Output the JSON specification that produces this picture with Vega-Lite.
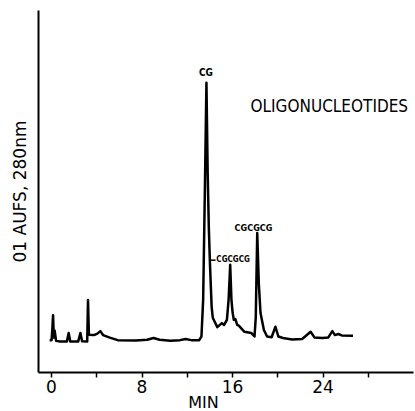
{
  "$schema": "https://vega.github.io/schema/vega-lite/v6.json",
  "width": 375,
  "height": 362,
  "autosize": "none",
  "padding": {"left": 38, "top": 10, "right": 2, "bottom": 39},
  "background": "white",
  "config": {
    "view": {"stroke": null},
    "font": "DejaVu Sans",
    "axis": {"domainColor": "black", "domainWidth": 2, "tickColor": "black", "tickWidth": 1.5, "labelColor": "black", "titleColor": "black", "grid": false, "titleFontWeight": "normal", "labelFont": "DejaVu Sans", "titleFont": "DejaVu Sans"}
  },
  "datasets": {
    "trace": [
      {"t": -0.12, "v": 8.8}, {"t": 0.05, "v": 8.8}, {"t": 0.12, "v": 12}, {"t": 0.18, "v": 15.7},
      {"t": 0.25, "v": 9.5}, {"t": 0.32, "v": 11.5}, {"t": 0.45, "v": 8.6}, {"t": 0.8, "v": 8.4},
      {"t": 1.4, "v": 8.4}, {"t": 1.56, "v": 10.8}, {"t": 1.7, "v": 8.4}, {"t": 2.4, "v": 8.4},
      {"t": 2.6, "v": 10.8}, {"t": 2.75, "v": 8.5}, {"t": 3.2, "v": 8.4}, {"t": 3.27, "v": 19.9},
      {"t": 3.35, "v": 10.3}, {"t": 3.8, "v": 10.2}, {"t": 4.1, "v": 10.6}, {"t": 4.36, "v": 11.3},
      {"t": 4.6, "v": 10.2}, {"t": 5.2, "v": 9.5}, {"t": 5.9, "v": 8.8}, {"t": 7.5, "v": 8.7},
      {"t": 8.5, "v": 8.9}, {"t": 9.06, "v": 9.4}, {"t": 9.6, "v": 8.9}, {"t": 10.55, "v": 8.6},
      {"t": 11.4, "v": 8.8}, {"t": 11.9, "v": 9.1}, {"t": 12.4, "v": 8.8}, {"t": 13.1, "v": 8.8},
      {"t": 13.3, "v": 9.8}, {"t": 13.45, "v": 20}, {"t": 13.6, "v": 50}, {"t": 13.74, "v": 79.9},
      {"t": 13.85, "v": 55}, {"t": 13.95, "v": 40}, {"t": 14.05, "v": 30}, {"t": 14.2, "v": 18},
      {"t": 14.3, "v": 15}, {"t": 14.7, "v": 12.4}, {"t": 15.1, "v": 13.5}, {"t": 15.3, "v": 13},
      {"t": 15.55, "v": 14.4}, {"t": 15.7, "v": 20}, {"t": 15.84, "v": 29.6}, {"t": 15.95, "v": 20},
      {"t": 16.05, "v": 16.5}, {"t": 16.16, "v": 14.4}, {"t": 16.3, "v": 14.6}, {"t": 16.46, "v": 13},
      {"t": 16.6, "v": 12.8}, {"t": 17.1, "v": 11.1}, {"t": 17.7, "v": 10.8}, {"t": 17.99, "v": 9.8},
      {"t": 18.1, "v": 15}, {"t": 18.23, "v": 38.4}, {"t": 18.37, "v": 24.5}, {"t": 18.52, "v": 16.3},
      {"t": 18.82, "v": 11.6}, {"t": 19.1, "v": 9.8}, {"t": 19.5, "v": 9.6}, {"t": 19.84, "v": 12.5},
      {"t": 20.1, "v": 9.8}, {"t": 20.5, "v": 9.4}, {"t": 21.32, "v": 9.0}, {"t": 22.2, "v": 9.1},
      {"t": 22.95, "v": 11.1}, {"t": 23.3, "v": 9.5}, {"t": 24.0, "v": 9.4}, {"t": 24.5, "v": 9.5},
      {"t": 24.87, "v": 11.3}, {"t": 25.1, "v": 10.2}, {"t": 25.4, "v": 10.5}, {"t": 25.7, "v": 10.1},
      {"t": 26.7, "v": 10.0}
    ],
    "labels": [
      {"t": 13.7, "v": 82.5, "label": "CG", "size": 10},
      {"t": 16.1, "v": 30.9, "label": "CGCGCG", "size": 8},
      {"t": 17.9, "v": 39.8, "label": "CGCGCG", "size": 9}
    ],
    "leader": [{"t": 14.1, "t2": 14.55, "v": 30.9}],
    "title": [{"t": 24.6, "v": 73.2, "label": "OLIGONUCLEOTIDES"}]
  },
  "encoding": {
    "x": {"field": "t", "type": "quantitative",
      "scale": {"domain": [-1.15, 32], "nice": false, "zero": false},
      "axis": {"values": [0, 4, 8, 12, 16, 20, 24, 28], "labelExpr": "datum.value % 8 == 0 ? datum.label : ''",
        "labelFontSize": 17, "tickSize": 5, "labelPadding": 2, "title": "MIN", "titleFontSize": 16,
        "titleAnchor": null, "titleX": 165, "titleY": 35, "titleBaseline": "alphabetic", "titleAlign": "center"}},
    "y": {"field": "v", "type": "quantitative",
      "scale": {"domain": [0, 100], "nice": false},
      "axis": {"ticks": false, "labels": false, "title": "01 AUFS, 280nm", "titleFontSize": 17,
        "titleAnchor": null, "titleX": -18, "titleY": 181, "titleBaseline": "middle", "titleAlign": "center", "titleAngle": -90}}
  },
  "layer": [
    {"data": {"name": "trace"}, "mark": {"type": "line", "color": "black", "strokeWidth": 2.5, "strokeJoin": "round"}},
    {"data": {"name": "labels"}, "mark": {"type": "text", "font": "DejaVu Sans Condensed", "fontWeight": "bold", "color": "black", "align": "center", "baseline": "middle"},
      "encoding": {"text": {"field": "label"}, "size": {"field": "size", "type": "quantitative", "scale": null}}},
    {"data": {"name": "leader"}, "mark": {"type": "rule", "color": "black", "strokeWidth": 1.5},
      "encoding": {"x2": {"field": "t2"}}},
    {"data": {"name": "title"}, "mark": {"type": "text", "font": "DejaVu Sans Condensed", "fontSize": 17, "color": "black", "align": "center", "baseline": "middle"},
      "encoding": {"text": {"field": "label"}}}
  ]
}
